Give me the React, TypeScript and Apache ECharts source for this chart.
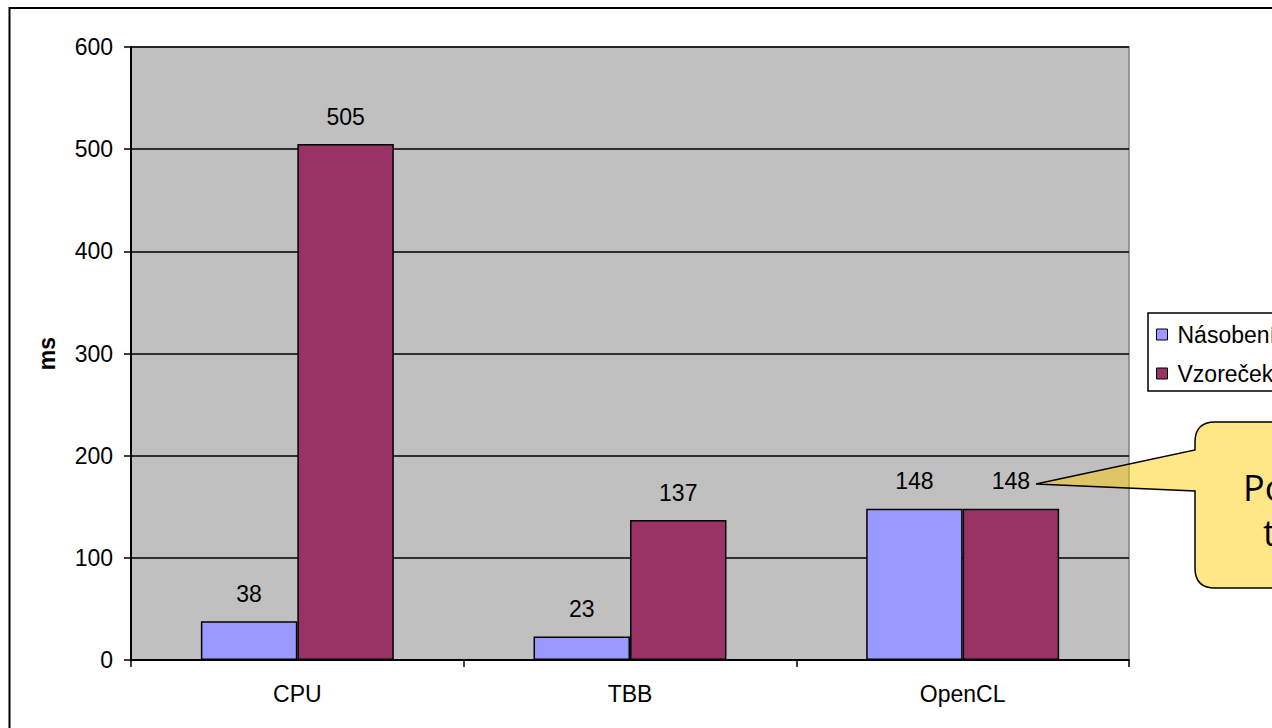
import React, { useEffect, useRef } from "react";
import * as echarts from "echarts";

const categories = ["CPU", "TBB", "OpenCL"];
const seriesNames = ["Násobení matic", "Vzoreček"];
const nasobeni = [38, 23, 148];
const vzorecek = [505, 137, 148];
const yTicks = { min: 0, max: 600, interval: 100 };
const calloutLines = ["Počítáno včetně", "transferu dat"];

const FONT = "'Liberation Sans', Arial, sans-serif";

const calloutPath =
  "M1215,422 L1500,422 L1500,588 L1215,588 Q1195,588 1195,568 L1195,491 L1036,484 L1195,450 L1195,442 Q1195,422 1215,422 Z";

let registered = false;
function ensureShape() {
  if (registered) return;
  echarts.graphic.registerShape("callout", echarts.graphic.extendPath(calloutPath, {}));
  registered = true;
}

export default function App() {
  const ref = useRef<HTMLDivElement>(null);
  useEffect(() => {
    if (!ref.current) return;
    ensureShape();
    const chart = echarts.init(ref.current, undefined, { renderer: "svg" });
    const barLabel = {
      show: true,
      position: "top",
      distance: 16,
      color: "#000",
      fontFamily: FONT,
      fontSize: 23,
    };
    chart.setOption({
      animation: false,
      backgroundColor: "#ffffff",
      grid: {
        left: 131,
        top: 47,
        right: 143,
        bottom: 68,
        show: true,
        backgroundColor: "#C0C0C0",
        borderColor: "#808080",
        borderWidth: 1.5,
        containLabel: false,
      },
      legend: {
        orient: "vertical",
        left: 1148,
        top: 313,
        data: seriesNames,
        icon: "rect",
        itemWidth: 11,
        itemHeight: 11,
        itemGap: 16,
        padding: [10, 10, 6, 8],
        borderColor: "#000",
        borderWidth: 1.5,
        backgroundColor: "#fff",
        textStyle: { fontFamily: FONT, fontSize: 23, color: "#000", lineHeight: 22, padding: [0, 0, 0, 5] },
        itemStyle: { borderColor: "#000", borderWidth: 1 },
      },
      xAxis: {
        type: "category",
        data: categories,
        boundaryGap: true,
        axisLine: { show: true, lineStyle: { color: "#000", width: 2 } },
        axisTick: { show: true, alignWithLabel: false, interval: 0, length: 7, lineStyle: { color: "#000", width: 1.5 } },
        axisLabel: { color: "#000", fontFamily: FONT, fontSize: 23, margin: 22 },
        splitLine: { show: false },
      },
      yAxis: {
        type: "value",
        min: yTicks.min,
        max: yTicks.max,
        interval: yTicks.interval,
        name: "ms",
        nameLocation: "middle",
        nameGap: 73,
        nameTextStyle: { fontFamily: FONT, fontSize: 23, fontWeight: "bold", color: "#000" },
        axisLine: { show: true, lineStyle: { color: "#000", width: 2 } },
        axisTick: { show: true, length: 7, lineStyle: { color: "#000", width: 1.5 } },
        axisLabel: { color: "#000", fontFamily: FONT, fontSize: 23, margin: 18 },
        splitLine: { show: true, lineStyle: { color: "#000", width: 1.5 } },
      },
      series: [
        {
          name: seriesNames[0],
          type: "bar",
          data: nasobeni,
          barGap: "0%",
          barCategoryGap: "42%",
          itemStyle: { color: "#9999FF", borderColor: "#000", borderWidth: 1.5 },
          label: barLabel,
        },
        {
          name: seriesNames[1],
          type: "bar",
          data: vzorecek,
          barGap: "0%",
          barCategoryGap: "42%",
          itemStyle: { color: "#993366", borderColor: "#000", borderWidth: 1.5 },
          label: barLabel,
        },
      ],
      graphic: [
        {
          type: "rect",
          z: 200,
          silent: true,
          shape: { x: 9.5, y: 8, width: 1500, height: 900 },
          style: { fill: "none", stroke: "#000", lineWidth: 2 },
        },
        {
          type: "callout",
          z: 150,
          x: 0,
          y: 0,
          silent: true,
          style: { fill: "rgba(255,204,0,0.47)", stroke: "#000", lineWidth: 1.5 },
        },
        {
          type: "text",
          z: 160,
          x: 1243,
          y: 487,
          silent: true,
          style: {
            text: calloutLines[0],
            fontFamily: "'Open Sans', sans-serif",
            fontSize: 36,
            fill: "#000",
            align: "left",
            verticalAlign: "middle",
          },
        },
        {
          type: "text",
          z: 160,
          x: 1263,
          y: 532,
          silent: true,
          style: {
            text: calloutLines[1],
            fontFamily: "'Open Sans', sans-serif",
            fontSize: 36,
            fill: "#000",
            align: "left",
            verticalAlign: "middle",
          },
        },
      ],
    });
    return () => chart.dispose();
  }, []);
  return (
    <div
      ref={ref}
      style={{ position: "fixed", left: 0, top: 0, width: 1272, height: 728, background: "#fff" }}
    />
  );
}
